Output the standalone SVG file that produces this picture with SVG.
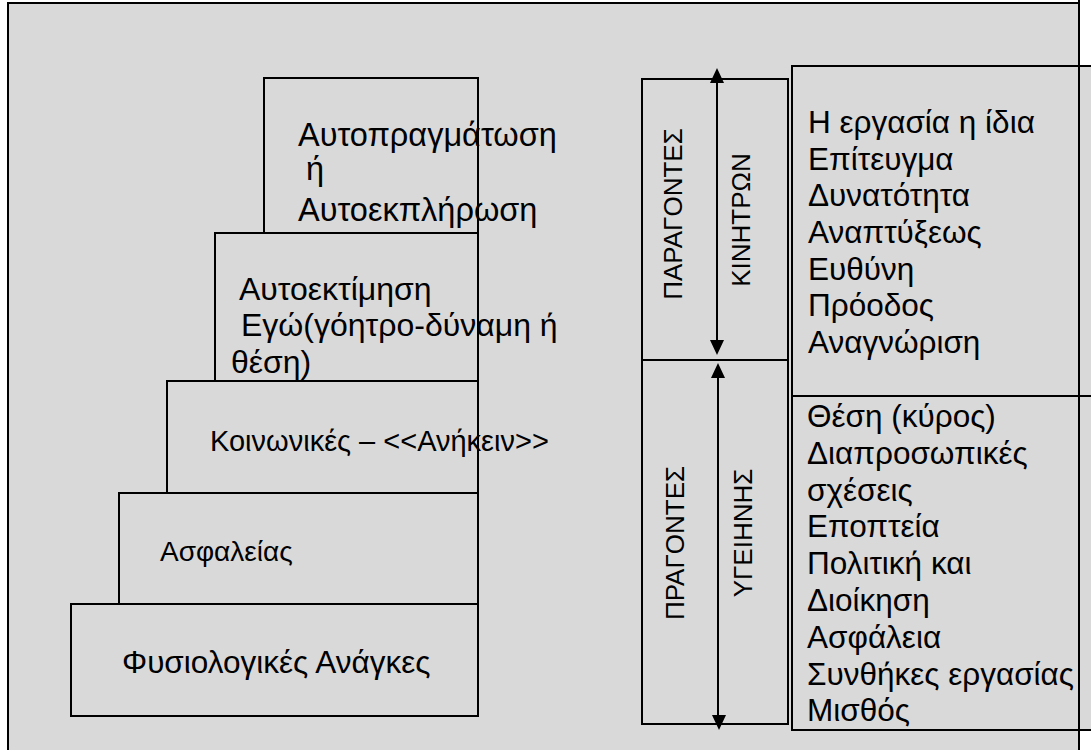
<svg xmlns="http://www.w3.org/2000/svg" width="1091" height="750" viewBox="0 0 1091 750">
<style>
.box{fill:#d9d9d9;stroke:#000;stroke-width:2}
.t{font-family:"Liberation Sans",Arial,sans-serif;font-size:31.5px;fill:#000}
.v{font-family:"Liberation Sans",Arial,sans-serif;font-size:26px;fill:#000}
.ln{stroke:#000;stroke-width:2;fill:none}
.ah{fill:#000}
</style>
<rect x="0" y="0" width="1091" height="750" fill="#fff"/>
<g id="frame"><rect class="box" x="8" y="3" width="1071" height="760"/></g>
<g id="right-top"><rect class="box" x="792" y="66" width="310" height="330"/>
<text class="t" x="808" y="133">Η εργασία η ίδια</text>
<text class="t" x="808" y="169.7">Επίτευγμα</text>
<text class="t" x="808" y="206.3">Δυνατότητα</text>
<text class="t" x="808" y="243">Αναπτύξεως</text>
<text class="t" x="808" y="279.7">Ευθύνη</text>
<text class="t" x="808" y="316.3">Πρόοδος</text>
<text class="t" x="808" y="353">Αναγνώριση</text></g>
<g id="right-bottom"><rect class="box" x="792" y="396" width="310" height="334"/>
<text class="t" x="807" y="427">Θέση (κύρος)</text>
<text class="t" x="807" y="463.8">Διαπροσωπικές</text>
<text class="t" x="807" y="500.6">σχέσεις</text>
<text class="t" x="807" y="537.4">Εποπτεία</text>
<text class="t" x="807" y="574.2">Πολιτική και</text>
<text class="t" x="807" y="611">Διοίκηση</text>
<text class="t" x="807" y="647.8">Ασφάλεια</text>
<text class="t" x="807" y="684.6">Συνθήκες εργασίας</text>
<text class="t" x="807" y="721.4">Μισθός</text></g>
<line class="ln" x1="1079" y1="0" x2="1079" y2="750"/>
<g id="motivators"><rect class="box" x="642" y="79" width="146" height="281"/>
<text class="v" text-anchor="middle" transform="translate(682,214) rotate(-90)">ΠΑΡΑΓΟΝΤΕΣ</text>
<text class="v" text-anchor="middle" transform="translate(750,220) rotate(-90)">ΚΙΝΗΤΡΩΝ</text></g>
<g id="hygiene"><rect class="box" x="642" y="360" width="146" height="364"/>
<text class="v" text-anchor="middle" transform="translate(684,543) rotate(-90)">ΠΡΑΓΟΝΤΕΣ</text>
<text class="v" text-anchor="middle" transform="translate(752,533) rotate(-90)">ΥΓΕΙΗΝΗΣ</text></g>
<g id="level5"><rect class="box" x="71" y="604" width="407" height="112"/>
<text class="t" x="122" y="673">Φυσιολογικές Ανάγκες</text></g>
<g id="level4"><rect class="box" x="119" y="493" width="359" height="111"/>
<text class="t" x="160" y="561" style="font-size:28px">Ασφαλείας</text></g>
<g id="level3"><rect class="box" x="167" y="381" width="311" height="112"/>
<text class="t" x="210" y="451" style="font-size:29px">Κοινωνικές – &lt;&lt;Ανήκειν&gt;&gt;</text></g>
<g id="level2"><rect class="box" x="215" y="233" width="263" height="148"/>
<text class="t" x="239" y="300" style="font-size:32px">Αυτοεκτίμηση</text>
<text class="t" x="241" y="336" style="font-size:32px">Εγώ(γόητρο-δύναμη ή</text>
<text class="t" x="231" y="373" style="font-size:32px">θέση)</text></g>
<g id="level1"><rect class="box" x="264" y="78" width="214" height="155"/>
<text class="t" x="298" y="146" style="font-size:32.5px">Αυτοπραγμάτωση</text>
<text class="t" x="306" y="180" style="font-size:32.5px">ή</text>
<text class="t" x="298" y="221" style="font-size:32.5px">Αυτοεκπλήρωση</text></g>
<g id="connectors">
<line class="ln" x1="717" y1="80" x2="717" y2="343"/>
<polygon class="ah" points="717,68 710,83 724,83"/>
<polygon class="ah" points="717,355 710,340 724,340"/>
<line class="ln" x1="718" y1="375" x2="718" y2="718"/>
<polygon class="ah" points="718,363 711,378 725,378"/>
<polygon class="ah" points="719,730 712,715 726,715"/>
</g>
</svg>
